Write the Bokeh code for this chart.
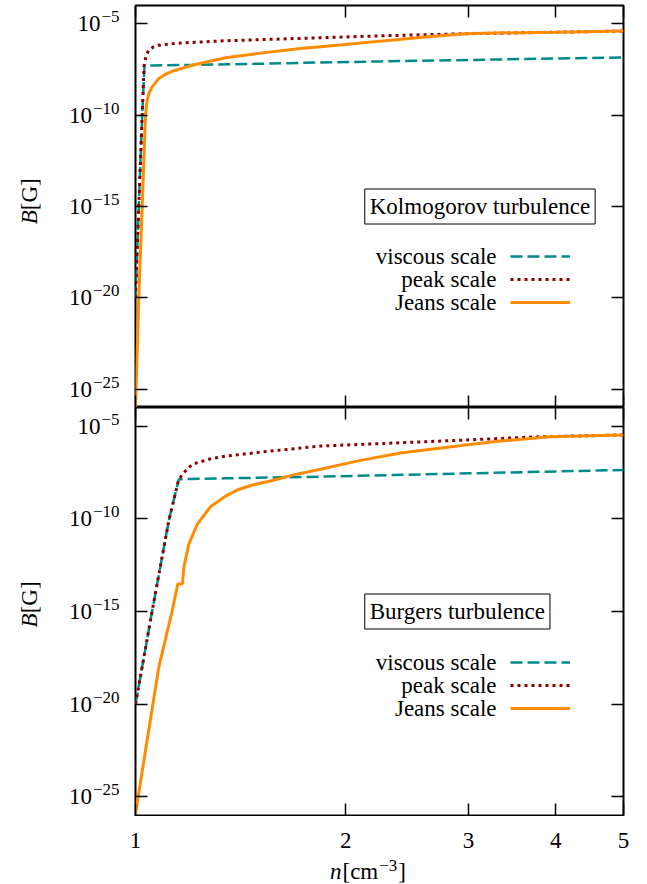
import numpy as np
from bokeh.plotting import figure
from bokeh.models import (LogAxis, FixedTicker, Legend, LegendItem, Label, Range1d,
                          CustomJSTickFormatter)
from bokeh.layouts import column, row
from bokeh.embed import file_html
from bokeh.resources import INLINE

# ---------------- data (n in cm^-3, log10 of B in G) ----------------
# Kolmogorov turbulence
kol_visc_n = [1.0, 1.0109, 1.0223, 1.0301, 1.059, 1.2, 1.5, 1.84, 2.24, 3.0, 4.0, 5.0]
kol_visc_logB = [-20.0, -15.0, -10.0, -7.30, -7.28, -7.25, -7.19, -7.12, -7.06, -6.98, -6.90, -6.84]

kol_peak_n = [1.0, 1.0109, 1.0223, 1.0287, 1.0352, 1.0448, 1.0622, 1.0799, 1.1409, 1.2057,
              1.3458, 1.723, 2.24, 2.93, 4.0, 5.0]
kol_peak_logB = [-20.0, -15.0, -10.0, -7.3, -6.75, -6.44, -6.26, -6.17, -6.07, -6.02,
                 -5.93, -5.80, -5.66, -5.55, -5.46, -5.40]

kol_jeans_n = [1.0, 1.0109, 1.0223, 1.0335, 1.0393, 1.0472, 1.0566, 1.0799, 1.104, 1.1409,
               1.1793, 1.2057, 1.3458, 1.5, 1.723, 2.0, 2.24, 2.6, 3.0, 4.0, 5.0]
kol_jeans_logB = [-26.0, -20.0, -15.0, -10.0, -9.18, -8.73, -8.45, -7.99, -7.76, -7.54,
                  -7.38, -7.27, -6.86, -6.62, -6.35, -6.13, -5.95, -5.72, -5.53, -5.46, -5.40]

# Burgers turbulence
bur_visc_n = [1.0, 1.0566, 1.1161, 1.1534, 1.2, 1.3458, 1.84, 3.0, 5.0]
bur_visc_logB = [-20.0, -14.96, -10.1, -7.87, -7.85, -7.82, -7.73, -7.55, -7.37]

bur_peak_n = [1.0, 1.0566, 1.1161, 1.1534, 1.1727, 1.2057, 1.2737, 1.3458, 1.5605, 1.84,
              2.398, 2.985, 3.717, 4.0, 5.0]
bur_peak_logB = [-20.0, -14.96, -10.1, -7.87, -7.51, -7.06, -6.79, -6.62, -6.35, -6.08,
                 -5.90, -5.75, -5.59, -5.56, -5.48]

bur_jeans_n = [1.0, 1.0335, 1.0799, 1.1287, 1.1497, 1.1676, 1.1727, 1.1922, 1.2256, 1.2807,
               1.3458, 1.3985, 1.47, 1.5605, 1.69, 1.8404, 2.1, 2.398, 2.95, 3.33, 3.92, 5.0]
bur_jeans_logB = [-25.9, -22.5, -18.0, -14.96, -13.52, -13.50, -12.63, -11.37, -10.3, -9.35,
                  -8.78, -8.45, -8.18, -7.96, -7.62, -7.33, -6.85, -6.45, -6.04, -5.81,
                  -5.58, -5.48]

x_ticks = [1, 2, 3, 4, 5]
y_tick_exponents = [-25, -20, -15, -10, -5]
series_labels = ["viscous scale", "peak scale", "Jeans scale"]
panel_titles = ["Kolmogorov turbulence", "Burgers turbulence"]
x_label = ("n", "[cm", "\u22123", "]")
y_label = ("B", "[G]")

# ---------------- style ----------------
FONT = "Liberation Serif"
FSN = 23
FS = f"{FSN}px"
EXP_FS = 17
TEAL = "#008b8b"
DRED = "#8b0000"
ORANGE = "#ff8c00"
LEFT_W = 134          # column holding the y tick labels
PLOT_W = 505
RIGHT_B = 16
TOTAL_W = LEFT_W + PLOT_W
FRAME_L = LEFT_W + 1
FRAME_W = TOTAL_W - RIGHT_B - FRAME_L

y_ticks = [10.0 ** e for e in y_tick_exponents]
empty_fmt = "return '';"


def hidden_axis(ticks):
    return LogAxis(ticker=FixedTicker(ticks=ticks),
                   formatter=CustomJSTickFormatter(code=empty_fmt),
                   major_label_text_font_size="0px", major_label_standoff=0,
                   major_tick_in=12, major_tick_out=0,
                   minor_tick_line_color=None, axis_line_color=None,
                   major_tick_line_width=1.5)


def blank_fig(width, height, x_range, y_range, x_type, y_type, **borders):
    f = figure(width=width, height=height, x_range=x_range, y_range=y_range,
               x_axis_type=x_type, y_axis_type=y_type,
               x_axis_location=None, y_axis_location=None,
               output_backend="svg", toolbar_location=None, **borders)
    f.xgrid.visible = False
    f.ygrid.visible = False
    f.outline_line_color = None
    f.background_fill_color = "white"
    f.border_fill_color = "white"
    return f


def style_ticks_only(ax, ticks):
    ax.ticker = FixedTicker(ticks=ticks)
    ax.formatter = CustomJSTickFormatter(code=empty_fmt)
    ax.major_label_text_font_size = "0px"
    ax.major_label_standoff = 0
    ax.major_tick_in = 12
    ax.major_tick_out = 0
    ax.major_tick_line_width = 1.5
    ax.minor_tick_line_color = None
    ax.axis_line_color = None


def make_panel(height, mb_top, mb_bottom, visc, peak, jeans, title, legend_y):
    p = figure(width=PLOT_W, height=height, x_axis_type="log", y_axis_type="log",
               x_range=Range1d(1, 5), y_range=Range1d(1e-26, 1e-4),
               output_backend="svg", toolbar_location=None,
               min_border_left=1, min_border_right=RIGHT_B,
               min_border_top=mb_top, min_border_bottom=mb_bottom)
    p.xgrid.visible = False
    p.ygrid.visible = False
    p.outline_line_color = "black"
    p.outline_line_width = 2
    p.outline_line_alpha = 1.0
    p.background_fill_color = "white"
    p.border_fill_color = "white"

    style_ticks_only(p.yaxis[0], y_ticks)
    style_ticks_only(p.xaxis[0], x_ticks)
    p.add_layout(hidden_axis(y_ticks), "right")
    p.add_layout(hidden_axis(x_ticks), "above")

    rv = p.line(visc[0], list(np.power(10.0, visc[1])), line_color=TEAL, line_width=2.5,
                line_dash="12 5")
    rp = p.line(peak[0], list(np.power(10.0, peak[1])), line_color=DRED, line_width=3,
                line_dash="3 4")
    rj = p.line(jeans[0], list(np.power(10.0, jeans[1])), line_color=ORANGE, line_width=3)

    p.add_layout(Label(x=2.13, y=1e-15, text=title, text_align="left", text_baseline="middle",
                       text_font=FONT, text_font_size=FS, text_color="black",
                       border_line_color="black", border_line_width=1,
                       background_fill_color="white", padding=5))

    glyph_h, spacing = 22, 1
    legend = Legend(items=[LegendItem(label="", renderers=[r]) for r in (rv, rp, rj)],
                    location=(375, legend_y), glyph_width=60, glyph_height=glyph_h,
                    label_height=glyph_h, label_standoff=0, label_text_font_size="10px",
                    border_line_color=None, background_fill_alpha=0,
                    padding=0, spacing=spacing, margin=0)
    p.add_layout(legend)
    for k, txt in enumerate(series_labels):
        cy = legend_y + glyph_h / 2 + (2 - k) * (glyph_h + spacing)
        p.add_layout(Label(x=361, y=cy, x_units="screen", y_units="screen", text=txt,
                           text_align="right", text_baseline="middle", text_font=FONT,
                           text_font_size=FS, text_color="black"))
    return p


def make_ylabels(height, y_range, mb_top, mb_bottom, ymid):
    f = blank_fig(LEFT_W, height, Range1d(0, LEFT_W), y_range, "linear", "log",
                  min_border_left=0, min_border_right=0,
                  min_border_top=mb_top, min_border_bottom=mb_bottom)
    for e, t in zip(y_tick_exponents, y_ticks):
        digits = str(-e)
        expw = EXP_FS * (0.564 + 0.5 * len(digits))
        f.add_layout(Label(x=119 - expw - 1, y=t, text="10", text_align="right",
                           text_baseline="middle", text_font=FONT, text_font_size=FS,
                           text_color="black"))
        f.add_layout(Label(x=119, y=t, y_offset=7, text="\u2212" + digits,
                           text_align="right", text_baseline="middle", text_font=FONT,
                           text_font_size=f"{EXP_FS}px", text_color="black"))
    f.add_layout(Label(x=29, y=ymid, angle=np.pi / 2, text=y_label[0], text_align="right",
                       text_baseline="middle", text_font=FONT, text_font_size=FS,
                       text_font_style="italic", text_color="black"))
    f.add_layout(Label(x=29, y=ymid, angle=np.pi / 2, text=y_label[1], text_align="left",
                       text_baseline="middle", text_font=FONT, text_font_size=FS,
                       text_color="black"))
    return f


H1 = 407
H2 = 409
XL_H = 68
p1 = make_panel(H1, 5, 0, (kol_visc_n, kol_visc_logB), (kol_peak_n, kol_peak_logB),
                (kol_jeans_n, kol_jeans_logB), panel_titles[0], 94)
p2 = make_panel(H2, 0, 1, (bur_visc_n, bur_visc_logB), (bur_peak_n, bur_peak_logB),
                (bur_jeans_n, bur_jeans_logB), panel_titles[1], 96)
l1 = make_ylabels(H1, p1.y_range, 5, 0, 10.0 ** -15.2)
l2 = make_ylabels(H2, p2.y_range, 0, 1, 10.0 ** -15.1)

# strip below the lower panel: x tick labels and x axis label, on the same log scale
span = np.log10(5) / FRAME_W
xl_range = Range1d(10 ** (-FRAME_L * span), 10 ** ((TOTAL_W - FRAME_L) * span))
xl = blank_fig(TOTAL_W, XL_H, xl_range, Range1d(0, XL_H), "log", "linear",
               min_border_left=0, min_border_right=0, min_border_top=0, min_border_bottom=0)
for t in x_ticks:
    xl.add_layout(Label(x=t, y=44, y_units="screen", text=str(t), text_align="center",
                        text_baseline="middle", text_font=FONT, text_font_size=FS,
                        text_color="black"))
n_right = 341
w_cm = FSN * (0.333 + 0.444 + 0.778)
w_exp = EXP_FS * (0.564 + 0.5)
base = 13
xl.add_layout(Label(x=n_right, y=base, x_units="screen", y_units="screen", text=x_label[0],
                    text_align="right", text_baseline="alphabetic", text_font=FONT,
                    text_font_size=FS, text_font_style="italic", text_color="black"))
xl.add_layout(Label(x=n_right + 1, y=base, x_units="screen", y_units="screen", text=x_label[1],
                    text_align="left", text_baseline="alphabetic", text_font=FONT,
                    text_font_size=FS, text_color="black"))
xl.add_layout(Label(x=n_right + 2 + w_cm, y=base + 6, x_units="screen", y_units="screen",
                    text=x_label[2], text_align="left", text_baseline="alphabetic",
                    text_font=FONT, text_font_size=f"{EXP_FS}px", text_color="black"))
xl.add_layout(Label(x=n_right + 3 + w_cm + w_exp, y=base, x_units="screen", y_units="screen",
                    text=x_label[3], text_align="left", text_baseline="alphabetic",
                    text_font=FONT, text_font_size=FS, text_color="black"))

layout = column(row(l1, p1, spacing=0), row(l2, p2, spacing=0), xl, spacing=0)
open("out.html", "w").write(file_html(layout, INLINE))
